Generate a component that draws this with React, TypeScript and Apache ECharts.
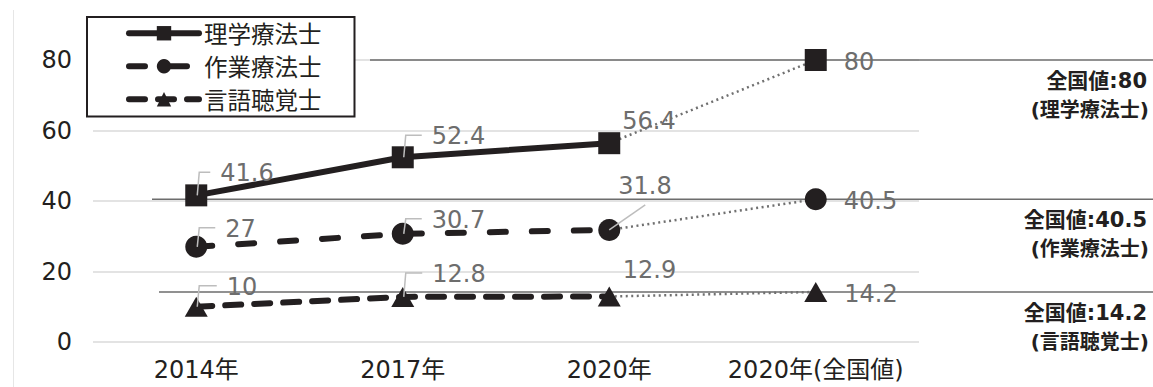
import React, { useEffect, useRef } from 'react';
import * as echarts from 'echarts';

// ---- data ----
const categories = ['2014年', '2017年', '2020年', '2020年(全国値)'];
const seriesNames = ['理学療法士', '作業療法士', '言語聴覚士'];
const ptValues = [41.6, 52.4, 56.4];
const otValues = [27, 30.7, 31.8];
const stValues = [10, 12.8, 12.9];
const nationalValues = [80, 40.5, 14.2];
const yMin = 0;
const yMax = 80;
const yInterval = 20;

// ---- label layout (styling only) ----
const ptLabelOffsets = [[13, -22], [18, -21], [2, -22]];
const otLabelOffsets = [[18, -18], [18, -14], [-2, -44]];
const stLabelOffsets = [[19, -20], [18, -23], [2, -27]];
const nationalLabelOffset = [17, 2];
const ptLeaders = ['bracket', 'bracket', null];
const otLeaders = ['bracket', 'bracket', 'diag'];
const stLeaders = ['bracket', 'bracket', null];
const refLineStarts = [370, 152, 159];

export default function App() {
  const ref = useRef<HTMLDivElement>(null);

  useEffect(() => {
    document.body.style.margin = '0';
    const el = ref.current!;
    const chart = echarts.init(el, null, { renderer: 'svg' });
    const font = "'DejaVu Sans', 'Noto Sans CJK JP', sans-serif";
    const cjk = "'Noto Sans CJK JP', sans-serif";
    const dark = '#231f20';
    const labelGray = '#6d6d6d';

    const groups = [
      { name: seriesNames[0], values: ptValues, national: nationalValues[0], symbol: 'rect', size: 22, half: 11, dash: 'solid' as any, offsets: ptLabelOffsets, leaders: ptLeaders },
      { name: seriesNames[1], values: otValues, national: nationalValues[1], symbol: 'circle', size: 22, half: 11, dash: [16, 26] as any, offsets: otLabelOffsets, leaders: otLeaders },
      { name: seriesNames[2], values: stValues, national: nationalValues[2], symbol: 'triangle', size: [23, 20] as any, half: 11.5, dash: [16, 13] as any, offsets: stLabelOffsets, leaders: stLeaders },
    ];

    const labelBase = {
      show: true,
      position: 'right',
      distance: 0,
      color: labelGray,
      fontSize: 24,
      fontFamily: font,
    };

    const series: any[] = [];
    groups.forEach((g) => {
      series.push({
        name: g.name,
        type: 'line',
        data: [...g.values.map((v, i) => ({ value: v, label: { offset: g.offsets[i] } })), '-'],
        symbol: g.symbol,
        symbolSize: g.size,
        showAllSymbol: true,
        lineStyle: { color: dark, width: 6, type: g.dash, cap: 'round' },
        itemStyle: { color: dark },
        label: labelBase,
        emphasis: { disabled: true },
        z: 3,
      });
      series.push({
        name: g.name + '(全国値)',
        type: 'line',
        data: [
          '-',
          '-',
          { value: g.values[2], symbol: 'none', label: { show: false } },
          { value: g.national, label: { offset: nationalLabelOffset } },
        ],
        symbol: g.symbol,
        symbolSize: g.size,
        lineStyle: { color: '#707070', width: 2.5, type: [2, 3.5] },
        itemStyle: { color: dark },
        label: labelBase,
        emphasis: { disabled: true },
        z: 2,
      });
    });

    chart.setOption({
      animation: false,
      grid: { left: 93, right: 234, top: 60, bottom: 45 },
      legend: {
        data: seriesNames.map((n) => ({ name: n })),
        orient: 'vertical',
        left: 87,
        top: 17,
        padding: [4.5, 33, 5.5, 39],
        itemWidth: 70,
        itemHeight: 18,
        itemGap: 9.5,
        borderColor: dark,
        borderWidth: 2,
        backgroundColor: '#fff',
        lineStyle: { width: 6 },
        textStyle: { fontSize: 23.5, color: dark, fontFamily: cjk, lineHeight: 23 },
        selectedMode: false,
      },
      xAxis: {
        type: 'category',
        data: categories,
        boundaryGap: true,
        axisLine: { show: false },
        axisTick: { show: false },
        axisLabel: { interval: 0, fontSize: 24, color: dark, fontFamily: font, margin: 16 },
      },
      yAxis: {
        type: 'value',
        min: yMin,
        max: yMax,
        interval: yInterval,
        axisLine: { show: false },
        axisTick: { show: false },
        axisLabel: { fontSize: 24, color: dark, fontFamily: font, margin: 21 },
        splitLine: { lineStyle: { color: '#dadada', width: 1.5 } },
      },
      series,
    });

    const toPx = (x: number, y: number) =>
      chart.convertToPixel({ xAxisIndex: 0, yAxisIndex: 0 }, [x, y]) as number[];

    const graphics: any[] = [];
    graphics.push({
      type: 'line',
      silent: true,
      z: 0,
      shape: { x1: 13.5, y1: 10, x2: 13.5, y2: 387 },
      style: { stroke: '#e6e6e6', lineWidth: 1 },
    });

    nationalValues.forEach((v, i) => {
      const y = toPx(0, v)[1];
      graphics.push({
        type: 'line',
        silent: true,
        z: 1,
        shape: { x1: refLineStarts[i], y1: y, x2: 1153, y2: y },
        style: { stroke: '#6d6d6d', lineWidth: 1.5 },
      });
      graphics.push({
        type: 'text',
        silent: true,
        z: 5,
        x: 1147,
        y: y + 21,
        style: {
          text: `全国値:${v}`,
          align: 'right',
          verticalAlign: 'middle',
          fontSize: 21,
          fontWeight: 'bold',
          fontFamily: font,
          fill: dark,
        },
      });
      graphics.push({
        type: 'text',
        silent: true,
        z: 5,
        x: 1149,
        y: y + 50,
        style: {
          text: `(${seriesNames[i]})`,
          align: 'right',
          verticalAlign: 'middle',
          fontSize: 20,
          fontWeight: 'bold',
          fontFamily: font,
          fill: dark,
        },
      });
    });

    groups.forEach((g) => {
      g.values.forEach((v, i) => {
        const kind = g.leaders[i];
        if (!kind) return;
        const [px, py] = toPx(i, v);
        const lx = px + g.half + g.offsets[i][0];
        const ly = py + g.offsets[i][1];
        const pts =
          kind === 'bracket'
            ? [[px + 1, py], [px + 3, ly - 1], [lx - 10, ly - 1]]
            : [[px, py], [lx + 27, ly + 19]];
        graphics.push({
          type: 'polyline',
          silent: true,
          z: 100,
          shape: { points: pts },
          style: { stroke: '#bdbdbd', lineWidth: 1.5, fill: null },
        });
      });
    });

    chart.setOption({ graphic: graphics });

    return () => {
      chart.dispose();
    };
  }, []);

  return (
    <div
      ref={ref}
      style={{ position: 'fixed', left: 0, top: 0, width: 1153, height: 387, background: '#fff' }}
    />
  );
}
